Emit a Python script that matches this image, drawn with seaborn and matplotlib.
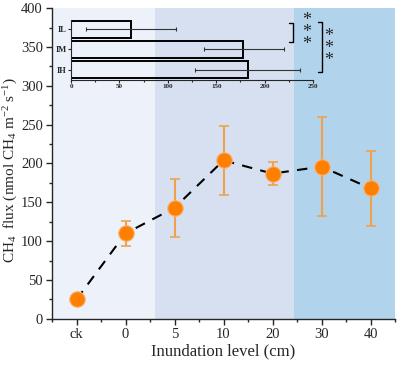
import matplotlib
matplotlib.use('Agg')
import matplotlib.pyplot as plt
from matplotlib.ticker import MultipleLocator, AutoMinorLocator
import seaborn as sns
import pandas as pd

# main series
levels = ['ck', '0', '5', '10', '20', '30', '40']
flux_mean = [25, 110, 143, 204, 187, 196, 168]
flux_low = [25, 94, 105, 159, 172, 132, 119]
flux_high = [25, 126, 180, 248, 202, 260, 216]

# inset bars
groups = ['IL', 'IM', 'IH']
group_mean = [62, 178, 183]
group_low = [15, 137, 128]
group_high = [108, 220, 237]

# shaded bands (category positions)
bands = [(-0.5, 1.6, '#EDF1FA'), (1.6, 4.43, '#D6E0F1'), (4.43, 6.5, '#B2D3EC')]

sns.set_style('ticks')
plt.rcParams['font.family'] = ['Liberation Serif', 'DejaVu Serif']
plt.rcParams['mathtext.fontset'] = 'custom'
plt.rcParams['mathtext.rm'] = 'Liberation Serif'
plt.rcParams['mathtext.it'] = 'Liberation Serif:italic'

fig = plt.figure(figsize=(4, 3.67), dpi=100)
ax = fig.add_axes([0.13, 0.131, 0.8575, 0.847])

for a, b, c in bands:
    ax.axvspan(a, b, color=c, lw=0, zorder=0)

df = pd.DataFrame({'level': levels, 'flux': flux_mean})
df['pos'] = range(len(levels))
sns.lineplot(data=df, x='pos', y='flux', ax=ax, color='black', lw=1.5,
             linestyle=(0, (5, 4)), zorder=2)
err = [[m - l for m, l in zip(flux_mean, flux_low)],
       [h - m for m, h in zip(flux_mean, flux_high)]]
ax.errorbar(df['pos'], df['flux'], yerr=err, fmt='none', ecolor='#EFA24E',
            elinewidth=1.5, capsize=3.5, capthick=1.2, zorder=3)
sns.scatterplot(data=df, x='pos', y='flux', ax=ax, color='#FF8000', s=125,
                edgecolor='#F6B57A', linewidth=0.8, zorder=4)

ax.set_xlim(-0.5, 6.5)
ax.set_ylim(0, 400)
ax.set_xticks(range(len(levels)))
ax.set_xticklabels(levels)
ax.xaxis.set_minor_locator(MultipleLocator(0.5))
ax.yaxis.set_major_locator(MultipleLocator(50))
ax.yaxis.set_minor_locator(MultipleLocator(25))
ax.tick_params(labelsize=10.5, length=4, width=1, pad=2.5)
ax.tick_params(which='minor', length=2.5, width=1)
for s in ['top', 'right']:
    ax.spines[s].set_visible(False)
for s in ['left', 'bottom']:
    ax.spines[s].set_linewidth(1)
ax.set_xlabel('Inundation level (cm)', fontsize=12, labelpad=2)
ax.set_ylabel(r'CH$_4$  flux (nmol CH$_4$ m$^{-2}$ s$^{-1}$)', fontsize=11)
ax.yaxis.set_label_coords(-0.092, 0.48)

# inset
ins = fig.add_axes([0.1775, 0.782, 0.605, 0.1635])
ins.patch.set_alpha(0)
gdf = pd.DataFrame({'group': groups, 'mean': group_mean})
sns.barplot(data=gdf, x='mean', y='group', orient='h', ax=ins, fill=False,
            color='black', linewidth=1.4, width=0.85, errorbar=None)
gerr = [[m - l for m, l in zip(group_mean, group_low)],
        [h - m for m, h in zip(group_mean, group_high)]]
ins.errorbar(group_mean, range(3), xerr=gerr, fmt='none', ecolor='#333333',
             elinewidth=0.8, capsize=1.5, capthick=0.8)
ins.set_xlim(0, 250)
ins.set_ylim(2.5, -0.45)
ins.set_xticks(range(0, 251, 50))
ins.xaxis.set_minor_locator(AutoMinorLocator(2))
ins.set_xlabel('')
ins.set_ylabel('')
ins.tick_params(axis='x', labelsize=5, length=2, width=0.8, pad=1)
ins.tick_params(axis='y', labelsize=6, length=2, width=0.8, pad=1)
ins.tick_params(which='minor', length=1.2, width=0.8)
for lab in ins.get_xticklabels() + ins.get_yticklabels():
    lab.set_fontweight('bold')
for s in ['top', 'right']:
    ins.spines[s].set_visible(False)
for s in ['left', 'bottom']:
    ins.spines[s].set_linewidth(0.8)

# significance brackets
ins.plot([225, 229, 229, 225], [-0.3, -0.3, 0.63, 0.63], color='black',
         lw=1, clip_on=False)
ins.text(243, 0.15, '*\n*\n*', ha='center', va='center', fontsize=13,
         linespacing=0.6, clip_on=False)
ins.plot([255, 259, 259, 255], [-0.35, -0.35, 2.1, 2.1], color='black',
         lw=1, clip_on=False)
ins.text(266.5, 0.95, '*\n*\n*', ha='center', va='center', fontsize=13,
         linespacing=0.6, clip_on=False)

fig.savefig('out.png', dpi=100)
